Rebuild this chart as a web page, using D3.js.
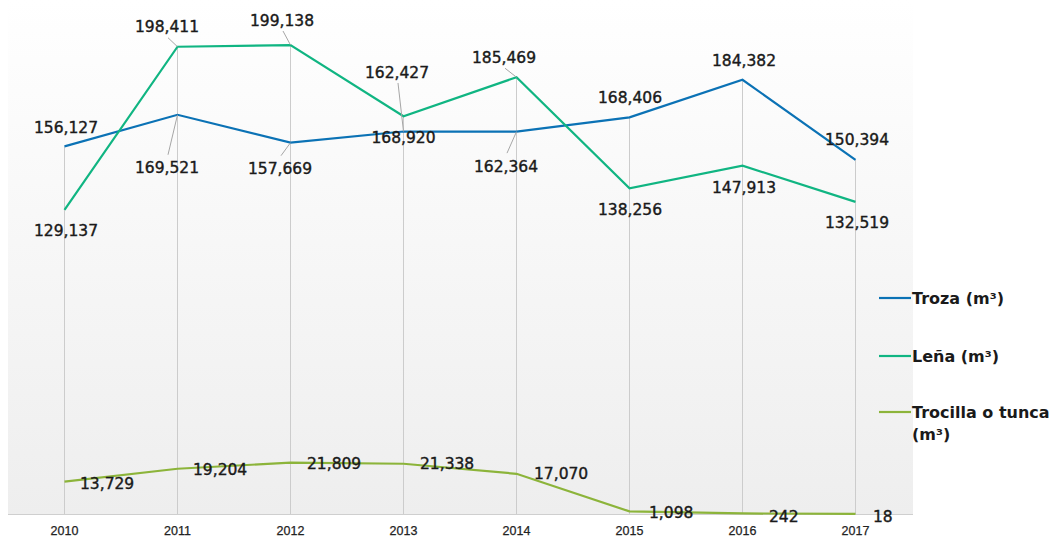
<!DOCTYPE html>
<meta charset="utf-8">
<style>
body { margin: 0; background: #fff; }
svg { display: block; font-family: "DejaVu Sans", Verdana, sans-serif; }
.label { font-size: 15.5px; fill: #1a1a1a; stroke: #1a1a1a; stroke-width: 0.4px; }
.axis text { font-size: 12.5px; fill: #222; stroke: #222; stroke-width: 0.25px; }
.axis path { stroke: #cfcfcf; }
.legend text { font-size: 16px; font-weight: bold; fill: #1a1a1a; }
</style>
<svg width="1051" height="537"></svg>
<script src="https://d3js.org/d3.v7.min.js"></script>
<script>

  var years = ["2010", "2011", "2012", "2013", "2014", "2015", "2016", "2017"];

  var troza = [156127, 169521, 157669, 162427, 162364, 168406, 184382, 150394];
  var lena = [129137, 198411, 199138, 168920, 185469, 138256, 147913, 132519];
  var trocilla = [13729, 19204, 21809, 21338, 17070, 1098, 242, 18];

  var seriesNames = ["Troza (m³)", "Leña (m³)", "Trocilla o tunca"];

  // label offsets from each point (label centre), and which ones get a leader line
  var trozaDx = [1.5, -10.5, -10.5, -6.5, -10.5, 0.5, 1.5, 1.5];
  var trozaDy = [-19, 53, 26, -59.5, 34.5, -19.5, -19, -20];
  var trozaLead = [0, 1, 1, 1, 1, 0, 0, 0];
  var lenaDx = [1.5, -10.5, -8.5, 0, -12.5, 0.5, 1.5, 1.5];
  var lenaDy = [21, -20, -25, 21, -20, 21.5, 21.5, 21];
  var lenaLead = [0, 1, 1, 0, 1, 0, 0, 0];
  var trociDx = [15.5, 15.5, 16.5, 16.5, 17.5, 19.5, 26.5, 17.5];
  var trociDy = [1.5, 1, 0.5, -0.5, 0, 1.5, 2.5, 2];

  var svg = d3.select("svg"),
      left = 8, right = 912, bottom = 514;

  var x = d3.scaleBand().domain(years).range([left, right]);
  var y = d3.scaleLinear().domain([0, 200000]).range([bottom, 43]);
  var cx = function(d) { return x(d) + x.bandwidth() / 2; };

  // plot background gradient
  var grad = svg.append("defs").append("linearGradient")
    .attr("id", "bg").attr("x1", 0).attr("y1", 0).attr("x2", 0).attr("y2", 1);
  grad.append("stop").attr("offset", "0%").attr("stop-color", "#ffffff");
  grad.append("stop").attr("offset", "100%").attr("stop-color", "#eeeeee");

  svg.append("rect")
    .attr("x", left).attr("y", 0)
    .attr("width", right - left + 1).attr("height", bottom)
    .attr("fill", "url(#bg)");

  // drop lines from highest point to the axis
  svg.selectAll(".drop")
    .data(years)
    .enter().append("line")
    .attr("x1", cx).attr("x2", cx)
    .attr("y1", function(d, i) { return y(Math.max(troza[i], lena[i], trocilla[i])); })
    .attr("y2", bottom)
    .attr("stroke", "#cccccc").attr("stroke-width", 1);

  // x axis
  svg.append("g")
    .attr("class", "axis")
    .attr("transform", "translate(0," + bottom + ")")
    .call(d3.axisBottom(x).tickSize(0).tickPadding(12))
    .call(function(g) { g.select(".domain").attr("d", "M" + left + ",0.5H" + (right + 1)); });

  var series = [
    { values: troza, color: "#0b72b5", dx: trozaDx, dy: trozaDy, lead: trozaLead, anchor: "middle" },
    { values: lena, color: "#10b582", dx: lenaDx, dy: lenaDy, lead: lenaLead, anchor: "middle" },
    { values: trocilla, color: "#8cb43a", dx: trociDx, dy: trociDy, lead: null, anchor: "start" }
  ];

  var line = d3.line()
    .x(function(d, i) { return cx(years[i]); })
    .y(function(d) { return y(d); });

  series.forEach(function(s) {
    svg.append("path")
      .datum(s.values)
      .attr("fill", "none")
      .attr("stroke", s.color)
      .attr("stroke-width", 2.2)
      .attr("d", line);
  });

  // leader lines
  series.forEach(function(s) {
    if (!s.lead) return;
    s.values.forEach(function(v, i) {
      if (!s.lead[i]) return;
      var px = cx(years[i]), py = y(v);
      var lx = px + s.dx[i] + 1, ly = py + s.dy[i] + (s.dy[i] > 0 ? -13 : 11);
      svg.append("line")
        .attr("x1", lx).attr("y1", ly)
        .attr("x2", px).attr("y2", py)
        .attr("stroke", "#a6a6a6").attr("stroke-width", 1);
    });
  });

  // data labels
  var fmt = d3.format(",");
  series.forEach(function(s) {
    svg.selectAll(null)
      .data(s.values)
      .enter().append("text")
      .attr("class", "label")
      .attr("text-anchor", s.anchor)
      .attr("x", function(d, i) { return cx(years[i]) + s.dx[i]; })
      .attr("y", function(d, i) { return y(d) + s.dy[i]; })
      .attr("dy", "0.36em")
      .text(function(d) { return fmt(d); });
  });

  // legend
  var legendY = [298, 356, 412];
  var legend = svg.append("g").attr("class", "legend");
  series.forEach(function(s, i) {
    legend.append("line")
      .attr("x1", 879).attr("x2", 911)
      .attr("y1", legendY[i]).attr("y2", legendY[i])
      .attr("stroke", s.color).attr("stroke-width", 2.2);
    legend.append("text")
      .attr("x", 912).attr("y", legendY[i]).attr("dy", "0.36em")
      .text(seriesNames[i]);
  });
  legend.append("text")
    .attr("x", 912).attr("y", 434).attr("dy", "0.36em")
    .text("(m³)");

</script>
